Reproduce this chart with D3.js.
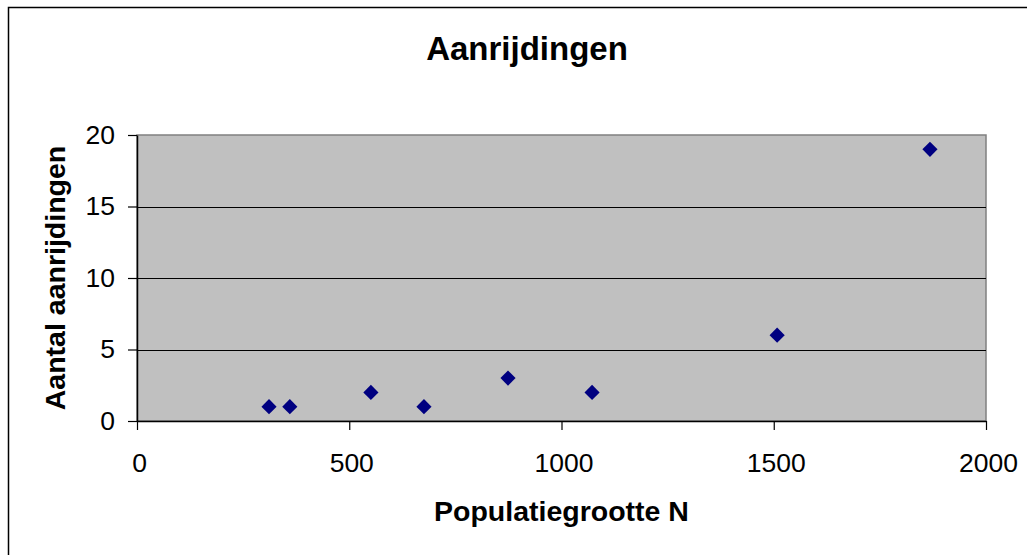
<!DOCTYPE html>
<html>
<head>
<meta charset="utf-8">
<script src="https://cdn.jsdelivr.net/npm/d3@7"></script>
<style>
  html, body { margin: 0; padding: 0; background: #fff; }
  svg { display: block; font-family: "Liberation Sans", Arial, sans-serif; }
</style>
</head>
<body>
<div id="chart"></div>
<script>
// data
const populatie = [311, 360, 551, 676, 874, 1072, 1508, 1868];
const aanrijdingen = [1, 1, 2, 1, 3, 2, 6, 19];
const xTicks = [0, 500, 1000, 1500, 2000];
const yTicks = [0, 5, 10, 15, 20];

const titel = "Aanrijdingen";
const xTitel = "Populatiegrootte N";
const yTitel = "Aantal aanrijdingen";

const width = 1027;
const height = 555;
const plot = { left: 137, top: 135, right: 986, bottom: 421 };

const svg = d3.select("#chart").append("svg")
  .attr("width", width)
  .attr("height", height);

// chart frame (only left and top edges are inside the picture)
svg.append("rect")
  .attr("x", 8.5).attr("y", 7.5)
  .attr("width", width + 20).attr("height", height + 20)
  .attr("fill", "#fff")
  .attr("stroke", "#000")
  .attr("stroke-width", 1.5);

const x = d3.scaleLinear().domain([0, 2000]).range([plot.left, plot.right]);
const y = d3.scaleLinear().domain([0, 20]).range([plot.bottom, plot.top]);

// grey plot area
svg.append("rect")
  .attr("x", plot.left).attr("y", plot.top)
  .attr("width", plot.right - plot.left)
  .attr("height", plot.bottom - plot.top)
  .attr("fill", "#c0c0c0")
  .attr("stroke", "#808080")
  .attr("stroke-width", 1.5);

// gridlines
svg.append("g")
  .selectAll("line")
  .data(yTicks.filter(d => d > 0 && d < 20))
  .join("line")
  .attr("x1", plot.left).attr("x2", plot.right)
  .attr("y1", d => Math.round(y(d)) + 0.5)
  .attr("y2", d => Math.round(y(d)) + 0.5)
  .attr("stroke", "#000")
  .attr("stroke-width", 1);

// axes
const xAxis = d3.axisBottom(x).tickValues(xTicks).tickFormat(d3.format("d"))
  .tickSize(9).tickPadding(23).tickSizeOuter(0);
const yAxis = d3.axisLeft(y).tickValues(yTicks).tickFormat(d3.format("d"))
  .tickSize(9).tickPadding(13).tickSizeOuter(0);

const gx = svg.append("g")
  .attr("transform", `translate(0,${plot.bottom})`)
  .call(xAxis);
const gy = svg.append("g")
  .attr("transform", `translate(${plot.left},0)`)
  .call(yAxis);

[gx, gy].forEach(g => {
  g.attr("font-size", 26.5).attr("font-family", "Liberation Sans, Arial, sans-serif");
  g.selectAll("path").attr("stroke", "#000").attr("stroke-width", 1.5);
  g.selectAll("line").attr("stroke", "#000").attr("stroke-width", 1.2);
  g.selectAll("text").attr("fill", "#000");
});
gx.selectAll("text").attr("dx", 2);

// points
svg.append("g")
  .selectAll("path")
  .data(populatie.map((p, i) => [p, aanrijdingen[i]]))
  .join("path")
  .attr("d", d3.symbol().type(d3.symbolSquare).size(115))
  .attr("transform", d => `translate(${x(d[0])},${y(d[1])}) rotate(45)`)
  .attr("fill", "#000080");

// titles
svg.append("text")
  .attr("x", 527).attr("y", 60)
  .attr("text-anchor", "middle")
  .attr("font-size", 33)
  .attr("font-weight", "bold")
  .text(titel);

svg.append("text")
  .attr("x", (plot.left + plot.right) / 2).attr("y", 521)
  .attr("text-anchor", "middle")
  .attr("font-size", 28.5)
  .attr("font-weight", "bold")
  .text(xTitel);

svg.append("text")
  .attr("transform", `translate(65,${(plot.top + plot.bottom) / 2}) rotate(-90)`)
  .attr("text-anchor", "middle")
  .attr("font-size", 28.5)
  .attr("font-weight", "bold")
  .text(yTitel);
</script>
</body>
</html>
